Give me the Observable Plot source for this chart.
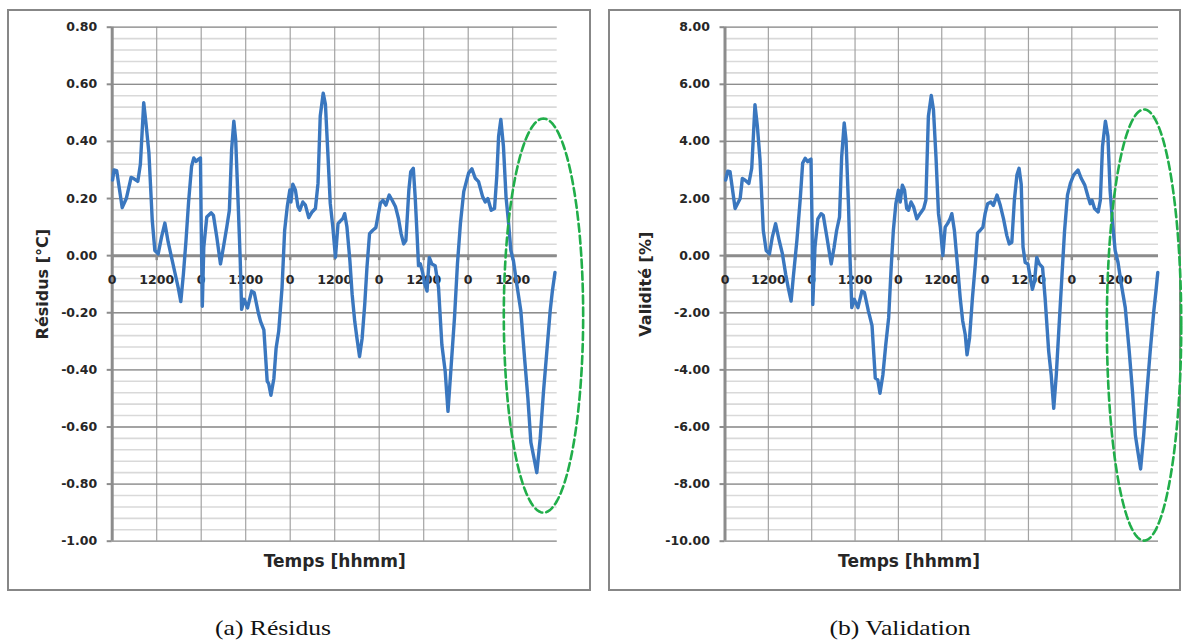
<!DOCTYPE html>
<html><head><meta charset="utf-8">
<script src="https://cdn.jsdelivr.net/npm/d3@7"></script>
<script src="https://cdn.jsdelivr.net/npm/@observablehq/plot@0.6"></script>
<style>
html,body{margin:0;padding:0;background:#fff;}
#page{position:relative;width:1187px;height:643px;overflow:hidden;background:#fff;}
.box{position:absolute;border:2px solid #878787;box-sizing:border-box;}
.panel{position:absolute;top:0;}
.cap{position:absolute;top:614px;font-family:"Liberation Serif",serif;font-size:21px;line-height:28px;color:#111;white-space:nowrap;transform:translateX(-50%) scaleX(1.22);}
</style></head><body>
<div id="page">
  <div class="box" style="left:7px;top:9px;width:584px;height:582px"></div>
  <div class="box" style="left:608px;top:9px;width:573px;height:582px"></div>
  <div id="a" class="panel" style="left:0px"></div>
  <div id="b" class="panel" style="left:598px"></div>
  <div class="cap" style="left:273px">(a) Résidus</div>
  <div class="cap" style="left:900px">(b) Validation</div>
</div>
<script>
// ---- x axis (hours since start; labels hhmm) ----
const xTickHours = [0, 12, 24, 36, 48, 60, 72, 84, 96, 108];
const xTickLabels = ["0", "1200", "0", "1200", "0", "1200", "0", "1200", "0", "1200"];
const xGridHours = [12, 24, 36, 48, 60, 72, 84, 96, 108];

// ---- (a) Résidus [°C] ----
const residusHours = [0.1,0.5,1.2,2.7,3.8,5.1,5.8,6.9,7.6,8.5,9.1,9.9,10.8,11.5,12.4,13.3,14.2,15.1,16.0,16.9,17.8,18.5,19.2,19.9,20.6,21.4,22.0,22.6,23.1,23.8,24.0,24.3,24.7,25.5,26.7,27.3,28.2,29.2,30.0,30.9,31.6,32.2,32.8,33.3,34.0,34.5,34.9,35.6,36.5,37.6,38.3,39.4,40.0,40.9,41.8,42.2,42.8,43.6,44.2,44.9,45.8,46.5,47.2,47.9,48.2,48.7,49.4,50.1,50.6,51.4,52.1,53.0,53.9,54.8,55.5,56.1,56.9,57.5,58.2,58.8,59.5,60.2,60.9,61.5,62.2,62.7,63.3,64.1,64.7,65.4,66.0,66.7,67.4,68.1,68.7,69.4,70.2,71.1,71.7,72.3,73.0,73.8,74.7,75.5,76.4,77.2,77.9,78.6,79.2,80.0,80.5,81.2,81.7,82.2,82.6,83.1,83.7,84.3,84.9,85.5,86.2,87.1,88.0,88.9,89.8,90.55,91.3,92.3,93.1,93.9,94.8,96.1,97.0,97.9,98.8,99.9,100.6,101.3,102.2,103.1,103.7,104.2,104.8,105.5,106.2,106.9,107.5,108.2,109.1,110.2,111.2,112.1,112.9,113.8,114.5,115.4,116.3,117.2,118.1,118.7,119.4];
const residusValues = [0.265,0.30,0.298,0.168,0.20,0.274,0.27,0.26,0.32,0.536,0.465,0.36,0.124,0.018,0.006,0.065,0.114,0.047,-0.006,-0.059,-0.112,-0.161,-0.065,0.053,0.188,0.312,0.342,0.33,0.336,0.342,0.112,-0.177,0.03,0.135,0.15,0.141,0.065,-0.029,0.03,0.10,0.159,0.371,0.471,0.406,0.171,-0.006,-0.188,-0.153,-0.183,-0.124,-0.13,-0.20,-0.23,-0.26,-0.44,-0.448,-0.489,-0.43,-0.324,-0.265,-0.112,0.088,0.171,0.23,0.188,0.25,0.23,0.171,0.159,0.188,0.177,0.133,0.153,0.165,0.253,0.489,0.569,0.53,0.347,0.183,0.10,-0.006,0.112,0.121,0.13,0.147,0.10,-0.018,-0.135,-0.23,-0.289,-0.353,-0.289,-0.171,-0.041,0.077,0.088,0.098,0.141,0.183,0.194,0.177,0.212,0.194,0.171,0.13,0.077,0.041,0.053,0.23,0.294,0.306,0.206,0.077,-0.035,-0.029,-0.059,-0.10,-0.124,-0.006,-0.029,-0.035,-0.112,-0.312,-0.406,-0.545,-0.406,-0.218,-0.029,0.112,0.224,0.289,0.304,0.271,0.259,0.206,0.188,0.20,0.159,0.165,0.277,0.418,0.477,0.383,0.206,0.112,0.018,-0.018,-0.10,-0.194,-0.359,-0.50,-0.654,-0.713,-0.76,-0.642,-0.477,-0.336,-0.194,-0.124,-0.059];
const residusYTicks = [-1.0, -0.8, -0.6, -0.4, -0.2, 0, 0.2, 0.4, 0.6, 0.8];
const residusEllipse = [116.3, -0.21, 10.7, 0.69]; // centre x, centre y, radius x, radius y

// ---- (b) Validité [%] ----
const validationHours = [0.2,0.75,1.4,2.8,4.2,4.8,5.5,6.6,7.4,8.3,8.96,9.7,10.6,11.4,12.3,13.1,14.0,15.0,15.9,16.8,17.5,18.3,18.9,19.9,20.8,21.5,22.2,22.9,23.4,23.8,24.1,24.3,24.9,25.7,26.6,27.2,28.2,29.4,30.2,30.9,31.7,32.3,33.0,33.5,34.2,34.6,35.1,35.8,36.8,37.9,38.6,39.7,40.7,41.6,42.3,42.9,43.7,44.5,45.3,46.0,46.6,47.3,48.0,48.5,49.1,49.7,50.3,50.8,51.5,52.2,53.1,54.0,55.0,55.6,56.3,57.1,57.7,58.4,59.1,59.6,60.3,60.95,61.6,62.3,62.8,63.5,64.4,65.1,65.8,66.5,67.0,67.7,68.5,69.3,69.9,70.6,71.4,72.0,72.7,73.6,74.3,75.3,76.2,77.1,78.0,78.7,79.4,80.1,80.8,81.4,82.0,82.5,83.1,83.85,84.5,85.1,85.7,86.3,87.0,87.9,88.6,89.6,90.3,91.0,91.7,92.5,93.3,94.0,94.8,95.6,96.5,97.7,98.6,99.6,100.5,101.1,101.6,102.3,103.3,103.9,104.5,105.3,106.0,106.6,107.3,108.0,108.8,109.7,110.8,111.9,112.8,113.6,114.3,115.05,115.9,116.8,117.7,118.7,119.3,119.8];
const validationValues = [2.65,2.96,2.94,1.65,2.0,2.7,2.65,2.53,3.06,5.29,4.53,3.35,0.88,0.18,0.06,0.65,1.12,0.53,0.06,-0.65,-1.12,-1.59,-0.76,0.53,1.94,3.24,3.41,3.29,3.35,3.38,1.12,-1.71,0.29,1.29,1.47,1.41,0.65,-0.29,0.29,0.88,1.35,3.47,4.65,4.06,1.71,-0.06,-1.82,-1.53,-1.82,-1.24,-1.29,-1.94,-2.45,-4.29,-4.35,-4.82,-4.18,-3.12,-2.18,-0.41,0.88,1.82,2.29,1.88,2.47,2.29,1.65,1.59,1.88,1.71,1.29,1.47,1.65,1.94,4.88,5.61,5.12,3.47,1.47,1.0,0.0,1.0,1.12,1.29,1.47,0.88,-0.41,-1.47,-2.29,-2.76,-3.47,-2.88,-1.47,-0.29,0.79,0.88,1.0,1.47,1.82,1.88,1.76,2.12,1.76,1.29,0.71,0.41,0.47,1.94,2.82,3.06,2.5,0.3,-0.24,-0.29,-0.76,-1.18,-0.88,-0.06,-0.29,-0.41,-1.47,-3.35,-4.18,-5.35,-4.18,-2.41,-0.65,0.88,2.12,2.53,2.82,3.0,2.71,2.47,2.06,1.82,1.94,1.65,1.53,1.94,3.82,4.71,4.18,2.29,1.12,0.18,-0.24,-1.0,-1.82,-3.35,-4.76,-6.29,-6.88,-7.47,-6.29,-4.76,-3.35,-1.94,-1.24,-0.59];
const validationYTicks = [-10, -8, -6, -4, -2, 0, 2, 4, 6, 8];
const validationEllipse = [116.0, -2.43, 10.3, 7.55];

const SANS = "'DejaVu Sans', sans-serif";

function panel(opts) {
  const {hours, values, yTicks, minorStep, ellipse, yLabel, width, marginLeft, marginRight, yLabelDx, xLabelDx} = opts;
  const yMin = yTicks[0], yMax = yTicks[yTicks.length - 1];
  const n = Math.round((yMax - yMin) / minorStep);
  const minor = d3.range(n + 1).map(i => yMin + i * minorStep);
  const pts = hours.map((h, i) => ({h, v: values[i]}));
  const ell = d3.range(0, 361, 2).map(a => {
    const t = a * Math.PI / 180;
    return {h: ellipse[0] + ellipse[2] * Math.cos(t), v: ellipse[1] + ellipse[3] * Math.sin(t)};
  });
  return Plot.plot({
    width, height: 600,
    marginLeft, marginRight, marginTop: 26.7, marginBottom: 59.3,
    x: {domain: [0, 120], axis: null},
    y: {domain: [yMin, yMax], axis: null},
    style: {background: "transparent", overflow: "visible", fontFamily: SANS, fontWeight: "bold", fontSize: "12.5px", color: "#262626"},
    marks: [
      Plot.ruleY(minor, {stroke: "#d9d9d9", strokeWidth: 1.6}),
      Plot.ruleX(xGridHours, {stroke: "#a3a3a3", strokeWidth: 1.2}),
      Plot.ruleY(yTicks, {stroke: "#8e8e8e", strokeWidth: 1.3}),
      Plot.ruleY([0], {stroke: "#8c8c8c", strokeWidth: 3}),
      Plot.ruleX([0], {stroke: "#8c8c8c", strokeWidth: 3}),
      Plot.ruleX(xTickHours, {x: d => d, y1: 0, y2: 0, insetTop: 5, insetBottom: 0, stroke: "#8c8c8c", strokeWidth: 2.5}),
      Plot.axisY(yTicks, {label: null, tickSize: 5, tickPadding: 10, tickFormat: d => d.toFixed(2), stroke: "#8c8c8c", strokeWidth: 2, fill: "#262626"}),
      Plot.text(xTickHours, {x: d => d, y: 0, dy: 24, text: (d, i) => xTickLabels[i], fill: "#262626"}),
      Plot.line(pts, {x: "h", y: "v", stroke: "#3a77bf", strokeWidth: 3.4, strokeLinejoin: "round", strokeLinecap: "round"}),
      Plot.line(ell, {x: "h", y: "v", stroke: "#21ae4a", strokeWidth: 2.6, strokeDasharray: "8,4"}),
      Plot.text([yLabel], {frameAnchor: "left", textAnchor: "middle", lineAnchor: "middle", rotate: -90, dx: yLabelDx, fontSize: 16, fill: "#262626"}),
      Plot.text(["Temps [hhmm]"], {frameAnchor: "bottom", textAnchor: "middle", lineAnchor: "middle", dy: 20, dx: xLabelDx, fontSize: 17, fill: "#262626"})
    ]
  });
}

document.getElementById("a").append(panel({
  hours: residusHours, values: residusValues, yTicks: residusYTicks, minorStep: 0.04,
  ellipse: residusEllipse, yLabel: "Résidus [°C]",
  width: 598, marginLeft: 111.7, marginRight: 41.3, yLabelDx: -69.7, xLabelDx: 0
}));
document.getElementById("b").append(panel({
  hours: validationHours, values: validationValues, yTicks: validationYTicks, minorStep: 0.4,
  ellipse: validationEllipse, yLabel: "Validité [%]",
  width: 589, marginLeft: 126.5, marginRight: 29, yLabelDx: -79.5, xLabelDx: -32.7
}));
</script>
</body></html>
